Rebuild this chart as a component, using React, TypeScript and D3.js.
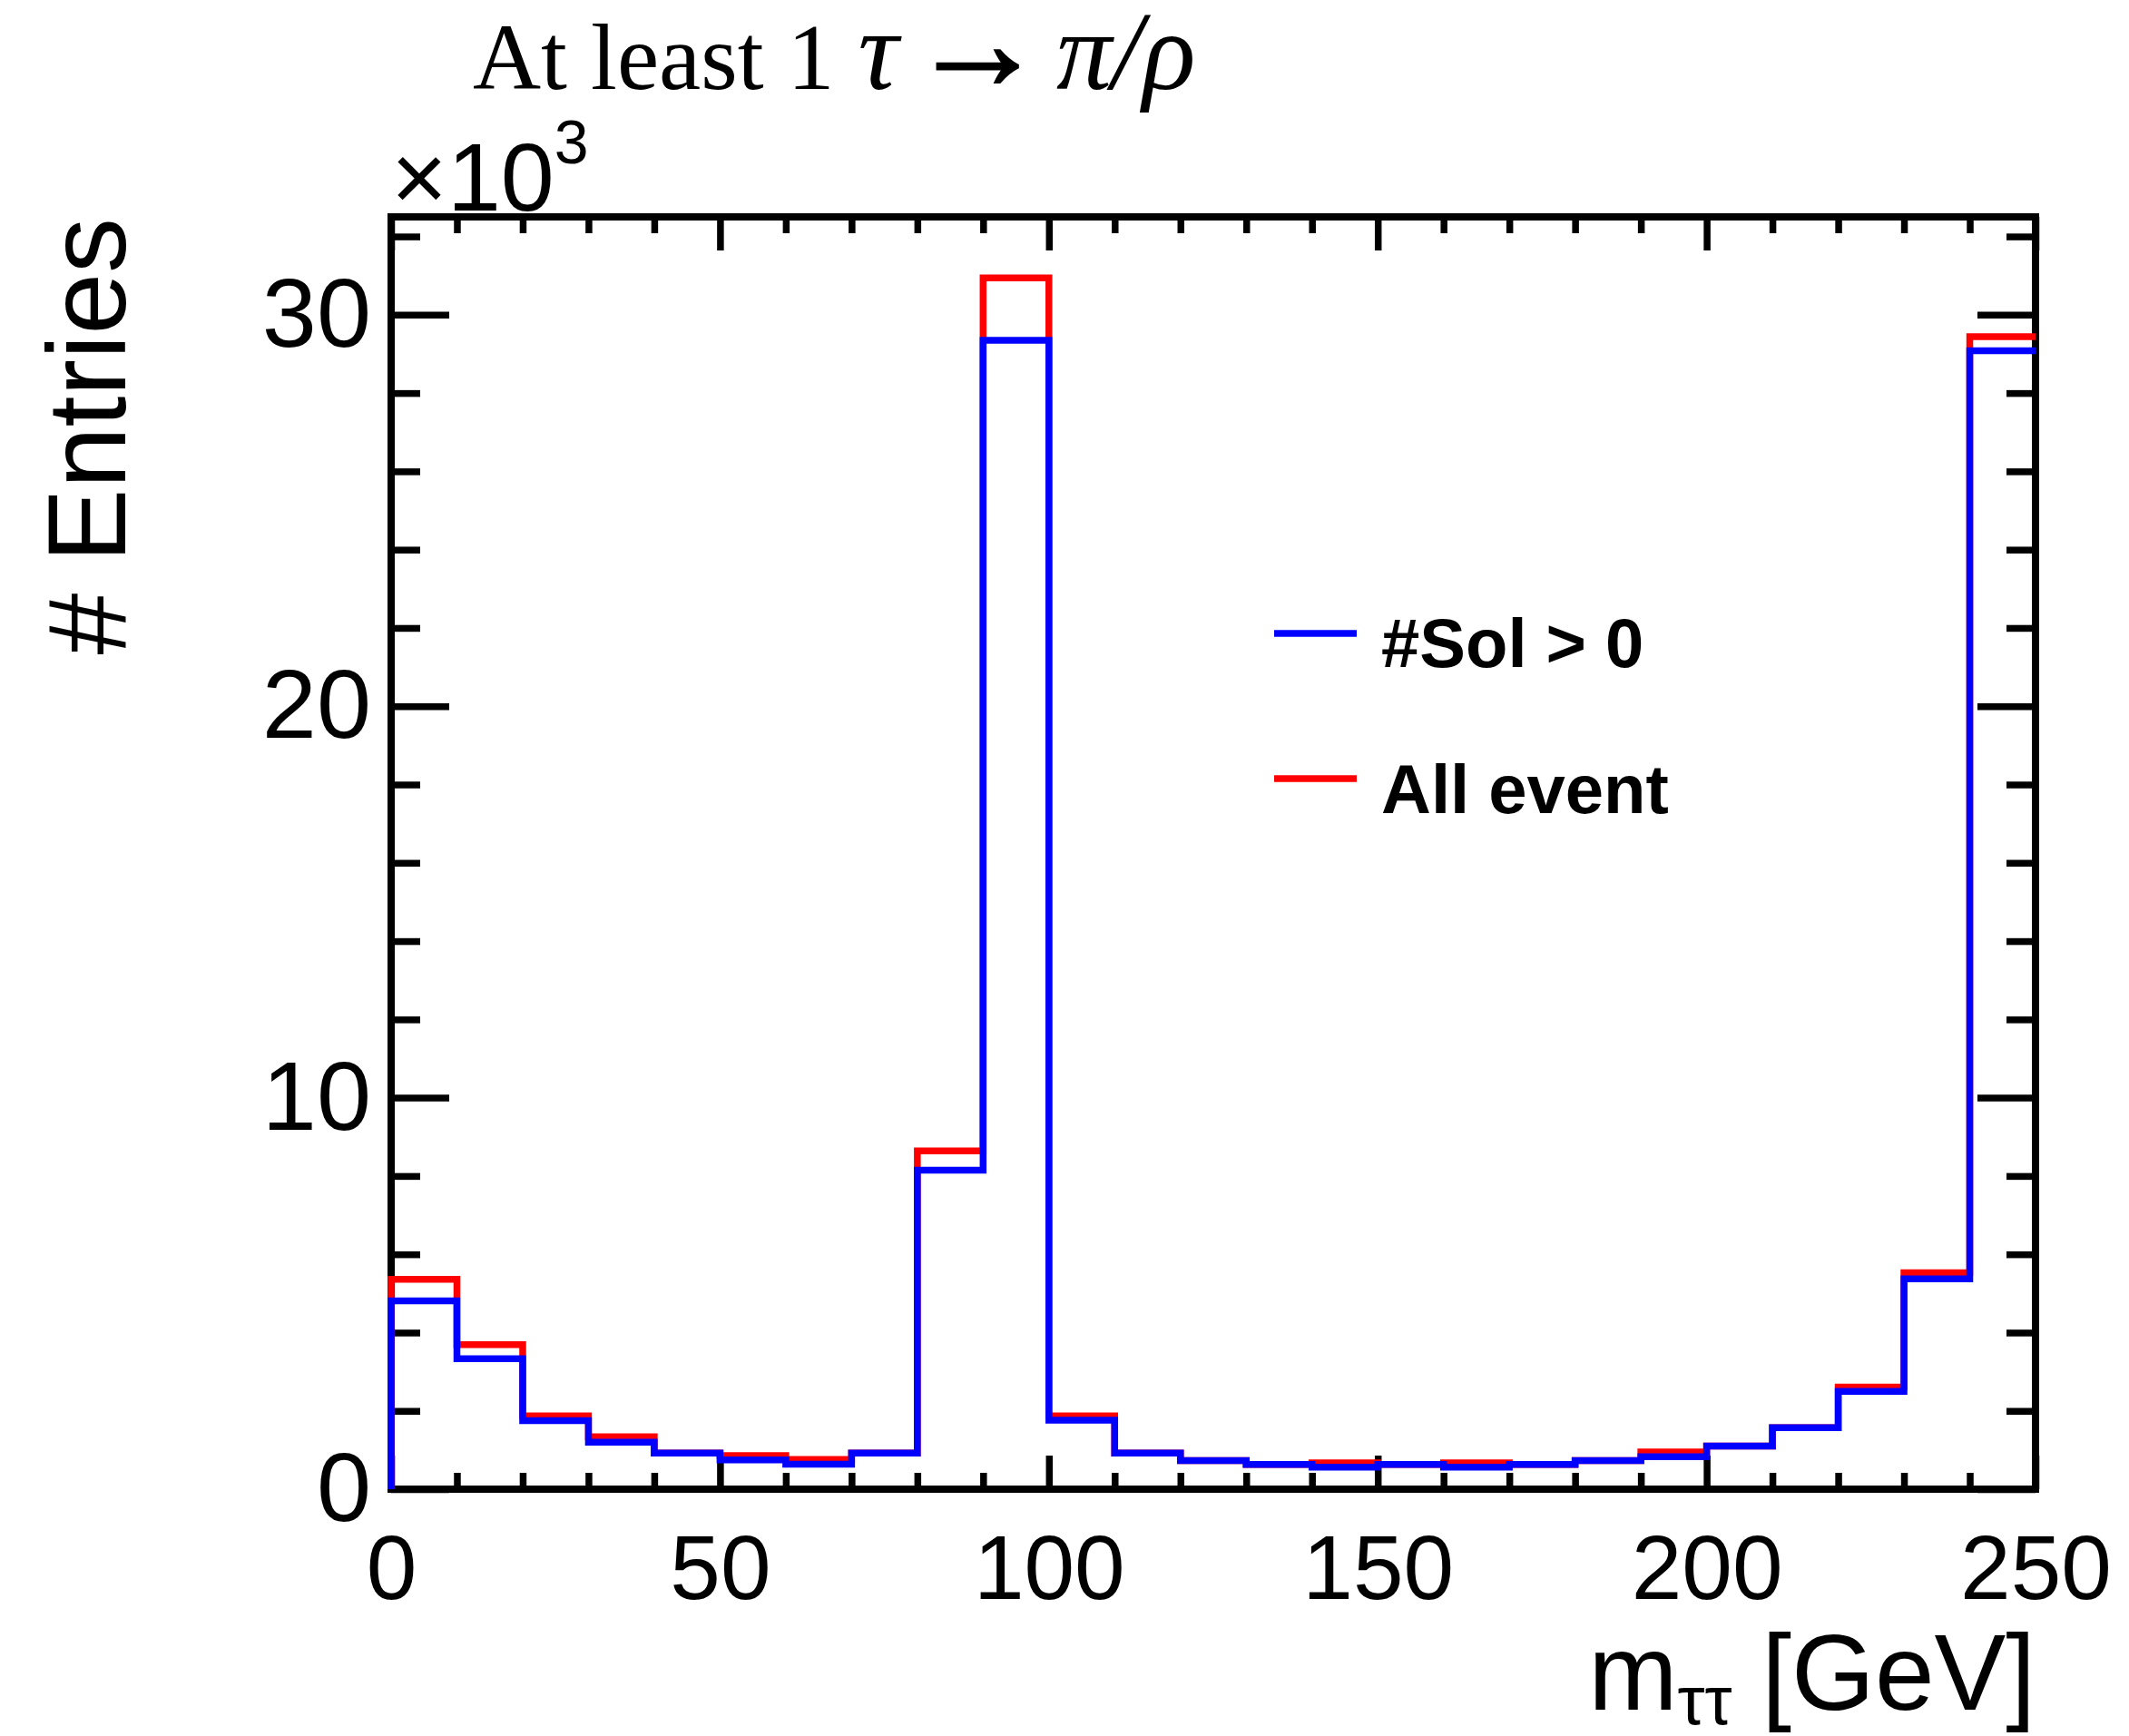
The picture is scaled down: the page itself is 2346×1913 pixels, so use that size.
import React, { useEffect, useRef } from 'react'
import * as d3 from 'd3'

// bin edges of the m_tautau histogram, GeV
const binEdges = [0, 10, 20, 30, 40, 50, 60, 70, 80, 90, 100, 110, 120, 130, 140, 150, 160, 170, 180, 190, 200, 210, 220, 230, 240, 250]

// "All event" (red)
const allEvent = [5360, 3690, 1870, 1340, 920, 860, 760, 920, 8640, 30940, 1870, 920, 730, 630, 670, 630, 670, 630, 730, 950, 1100, 1570, 2610, 5530, 29440]

// "#Sol > 0" (blue)
const solPositive = [4810, 3330, 1750, 1200, 920, 750, 640, 920, 8150, 29350, 1760, 920, 730, 630, 560, 630, 560, 630, 730, 830, 1100, 1570, 2500, 5370, 29080]

const xMajor = [0, 50, 100, 150, 200, 250]
const yMajor = [0, 10000, 20000, 30000]

const W = 2346, H = 1913
const frame = { left: 431, right: 2243, top: 239, bottom: 1641 }
const sans = '"Liberation Sans", Arial, Helvetica, sans-serif'
const serif = '"Liberation Serif", "Times New Roman", serif'

export default function App() {
    const ref = useRef<SVGSVGElement>(null)

    useEffect(() => {
        const svg = d3.select(ref.current)
        svg.selectAll('*').remove()

        const x = d3.scaleLinear().domain([0, 250]).range([frame.left, frame.right])
        const y = d3.scaleLinear().domain([0, 32500]).range([frame.bottom, frame.top])

        const xMinor = d3.range(0, 251, 10).filter(v => v % 50 !== 0)
        const yMinor = d3.range(0, 32001, 2000).filter(v => v % 10000 !== 0)

        const tickStyle = (g: any) => {
            g.select('.domain').remove()
            g.selectAll('line').attr('stroke', '#000').attr('stroke-width', 7.5)
        }

        // bottom axis
        svg.append('g')
            .attr('transform', `translate(0,${frame.bottom})`)
            .call(d3.axisBottom(x).tickValues(xMajor).tickSize(-37).tickPadding(50).tickFormat(d3.format('d')))
            .call(tickStyle)
            .call(g => g.selectAll('text').attr('font-size', 100).attr('font-family', sans).attr('fill', '#000'))
        svg.append('g')
            .attr('transform', `translate(0,${frame.bottom})`)
            .call(d3.axisBottom(x).tickValues(xMinor).tickSize(-18).tickFormat(() => ''))
            .call(tickStyle)

        // top axis
        svg.append('g')
            .attr('transform', `translate(0,${frame.top})`)
            .call(d3.axisTop(x).tickValues(xMajor).tickSize(-37).tickFormat(() => ''))
            .call(tickStyle)
        svg.append('g')
            .attr('transform', `translate(0,${frame.top})`)
            .call(d3.axisTop(x).tickValues(xMinor).tickSize(-18).tickFormat(() => ''))
            .call(tickStyle)

        // left axis
        svg.append('g')
            .attr('transform', `translate(${frame.left},0)`)
            .call(d3.axisLeft(y).tickValues(yMajor).tickSize(-64).tickPadding(22).tickFormat(d => String(+d / 1000)))
            .call(tickStyle)
            .call(g => g.selectAll('text').attr('font-size', 108).attr('font-family', sans).attr('fill', '#000'))
        svg.append('g')
            .attr('transform', `translate(${frame.left},0)`)
            .call(d3.axisLeft(y).tickValues(yMinor).tickSize(-32).tickFormat(() => ''))
            .call(tickStyle)

        // right axis
        svg.append('g')
            .attr('transform', `translate(${frame.right},0)`)
            .call(d3.axisRight(y).tickValues(yMajor).tickSize(-64).tickFormat(() => ''))
            .call(tickStyle)
        svg.append('g')
            .attr('transform', `translate(${frame.right},0)`)
            .call(d3.axisRight(y).tickValues(yMinor).tickSize(-32).tickFormat(() => ''))
            .call(tickStyle)

        svg.append('rect')
            .attr('x', frame.left).attr('y', frame.top)
            .attr('width', frame.right - frame.left).attr('height', frame.bottom - frame.top)
            .attr('fill', 'none').attr('stroke', '#000').attr('stroke-width', 8)

        // histograms as step lines
        const stepLine = d3.line<[number, number]>()
            .x(d => x(d[0]))
            .y(d => y(d[1]))
            .curve(d3.curveStepAfter)

        const toPoints = (vals: number[]): [number, number][] => {
            const pts: [number, number][] = [[binEdges[0], 0]]
            vals.forEach((v, i) => pts.push([binEdges[i], v]))
            pts.push([binEdges[binEdges.length - 1], vals[vals.length - 1]])
            return pts
        }

        svg.append('path')
            .attr('d', stepLine(toPoints(allEvent)))
            .attr('fill', 'none').attr('stroke', '#ff0000').attr('stroke-width', 7.5)

        svg.append('path')
            .attr('d', stepLine(toPoints(solPositive)))
            .attr('fill', 'none').attr('stroke', '#0000ff').attr('stroke-width', 7.5)

        // legend
        const legend = [
            { label: '#Sol > 0', color: '#0000ff', ly: 698, ty: 735 },
            { label: 'All event', color: '#ff0000', ly: 858, ty: 896 },
        ]
        legend.forEach(l => {
            svg.append('line')
                .attr('x1', 1404).attr('x2', 1495)
                .attr('y1', l.ly).attr('y2', l.ly)
                .attr('stroke', l.color).attr('stroke-width', 7.5)
            svg.append('text')
                .attr('x', 1522).attr('y', l.ty)
                .attr('font-family', sans).attr('font-weight', 'bold').attr('font-size', 76)
                .text(l.label)
        })

        // axis titles
        const xt = svg.append('text')
            .attr('x', frame.right).attr('y', 1884)
            .attr('text-anchor', 'end')
            .attr('font-family', sans).attr('font-size', 118)
        xt.append('tspan').text('m')
        xt.append('tspan').attr('font-size', 76).attr('dy', 16).text('ττ')
        xt.append('tspan').attr('dy', -16).text(' [GeV]')

        svg.append('text')
            .attr('transform', 'translate(138,240) rotate(-90)')
            .attr('text-anchor', 'end')
            .attr('font-family', sans).attr('font-size', 122)
            .text('# Entries')

        // exponent
        const ex = svg.append('text')
            .attr('x', 431).attr('y', 232)
            .attr('font-family', sans).attr('font-size', 106)
        ex.append('tspan').text('×10')
        ex.append('tspan').attr('font-size', 68).attr('dy', -52).text('3')

        // title
        const title = svg.append('text')
            .attr('x', 521).attr('y', 98)
            .attr('font-family', serif).attr('font-size', 104)
        title.append('tspan').text('At least 1 ')
        title.append('tspan').attr('font-style', 'italic').attr('font-size', 124).text('τ')
        title.append('tspan').attr('dx', 12).attr('font-size', 150)
            .attr('stroke', '#000').attr('stroke-width', 2.5).text('→')
        title.append('tspan').attr('dx', 12).attr('font-style', 'italic').attr('font-size', 122).text('π/ρ')
    }, [])

    return (
        <svg ref={ref} width={W} height={H}
            style={{ position: 'absolute', left: 0, top: 0, display: 'block', background: '#fff' }} />
    )
}
